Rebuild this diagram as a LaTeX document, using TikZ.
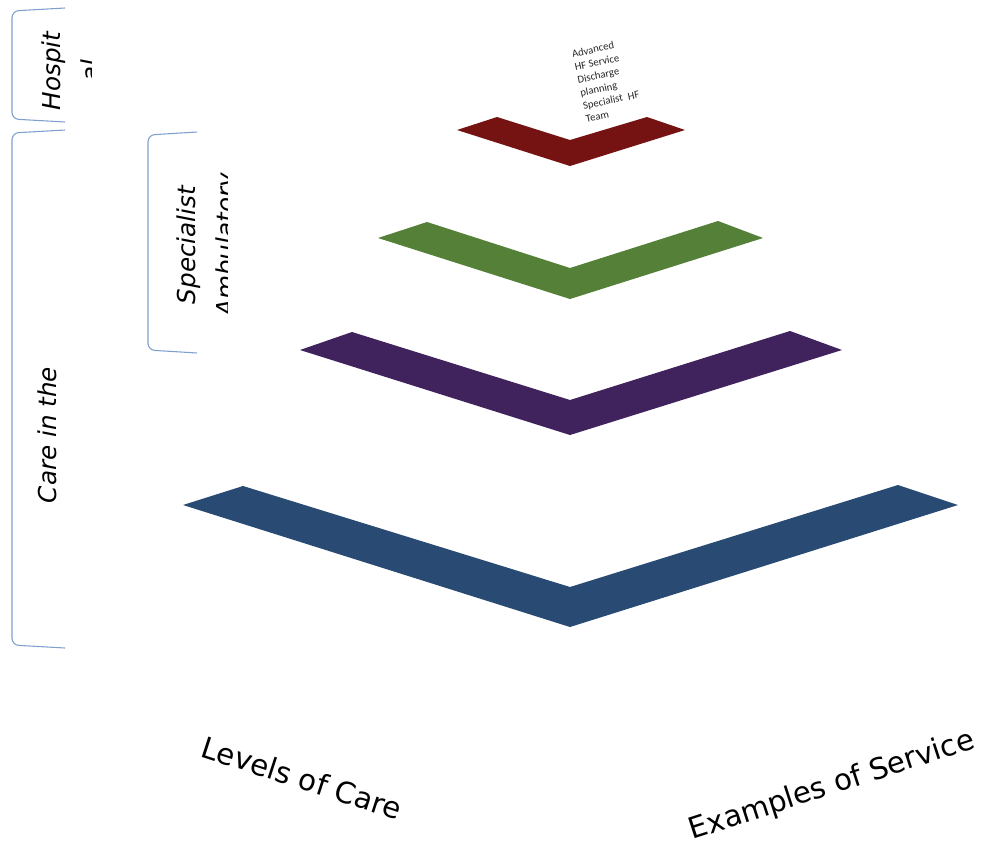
\documentclass[tikz,border=0pt]{standalone}
\usepackage{fontspec}
\setmainfont{DejaVu Sans}
\newfontfamily\handfont{DejaVu Sans}
\newfontfamily\notefont{Carlito}
\usepackage{xcolor}
\usetikzlibrary{positioning}

\definecolor{lvlred}{RGB}{117,18,18}
\definecolor{lvlgreen}{RGB}{84,128,55}
\definecolor{lvlpurple}{RGB}{64,34,92}
\definecolor{lvlblue}{RGB}{41,74,114}
\definecolor{brace}{RGB}{125,160,208}

\begin{document}
\begin{tikzpicture}[x=0.75pt,y=-0.75pt,
  chevron/.style={fill=#1,draw=none},
  bracket/.style={draw=brace,line width=0.8pt,rounded corners=5pt},
  tier/.style={font=\handfont\itshape\fontsize{18.5}{29}\selectfont,
               rotate=90,align=center,inner sep=0pt},
  axislabel/.style={font=\fontsize{22}{26}\selectfont,inner sep=0pt},
  note/.style={font=\notefont\fontsize{8}{10}\selectfont,align=left,
               inner sep=0pt,rotate=12,anchor=north west,text=black!85}]

\useasboundingbox[fill=white] (0,0) rectangle (981,843);

% levels, top to bottom
\fill[chevron=lvlred]    (457,130) -- (570,166) -- (685,130) -- (647,117) -- (570,140) -- (497,117) -- cycle;
\fill[chevron=lvlgreen]  (378,238) -- (570,299) -- (763,238) -- (718,221) -- (570,268) -- (427,222) -- cycle;
\fill[chevron=lvlpurple] (300,350) -- (570,435) -- (842,350) -- (790,331) -- (570,400) -- (352,332) -- cycle;
\fill[chevron=lvlblue]   (183,505) -- (570,627) -- (958,505) -- (898,485) -- (570,587) -- (243,486) -- cycle;

\node[note] (service) at (571,50)
  {Advanced\\HF Service\\Discharge\\planning\\Specialist\enspace HF\\Team};

% brackets on the left
\draw[bracket] (65,8) -- (12,11) -- (12,119) -- (65,122);
\draw[bracket] (65,130) -- (12,133) -- (12,645) -- (65,648);
\draw[bracket] (197,132) -- (148,135) -- (148,350) -- (197,353);

\begin{scope}
  \clip (0,0) rectangle (91,126);
  \node[tier] (hosp) at (71,71) {Hospit\\al};
\end{scope}
\begin{scope}
  \clip (140,130) rectangle (227,360);
  \node[tier] (spec) at (208,245) {Specialist\\Ambulatory};
\end{scope}
\node[tier] (comm) at (47,435) {Care in the};

\node[axislabel,rotate=-18] (levels)   at (302,778) {Levels of Care};
\node[axislabel,rotate=18]  (examples) at (832,786) {Examples of Service};
\end{tikzpicture}
\end{document}
